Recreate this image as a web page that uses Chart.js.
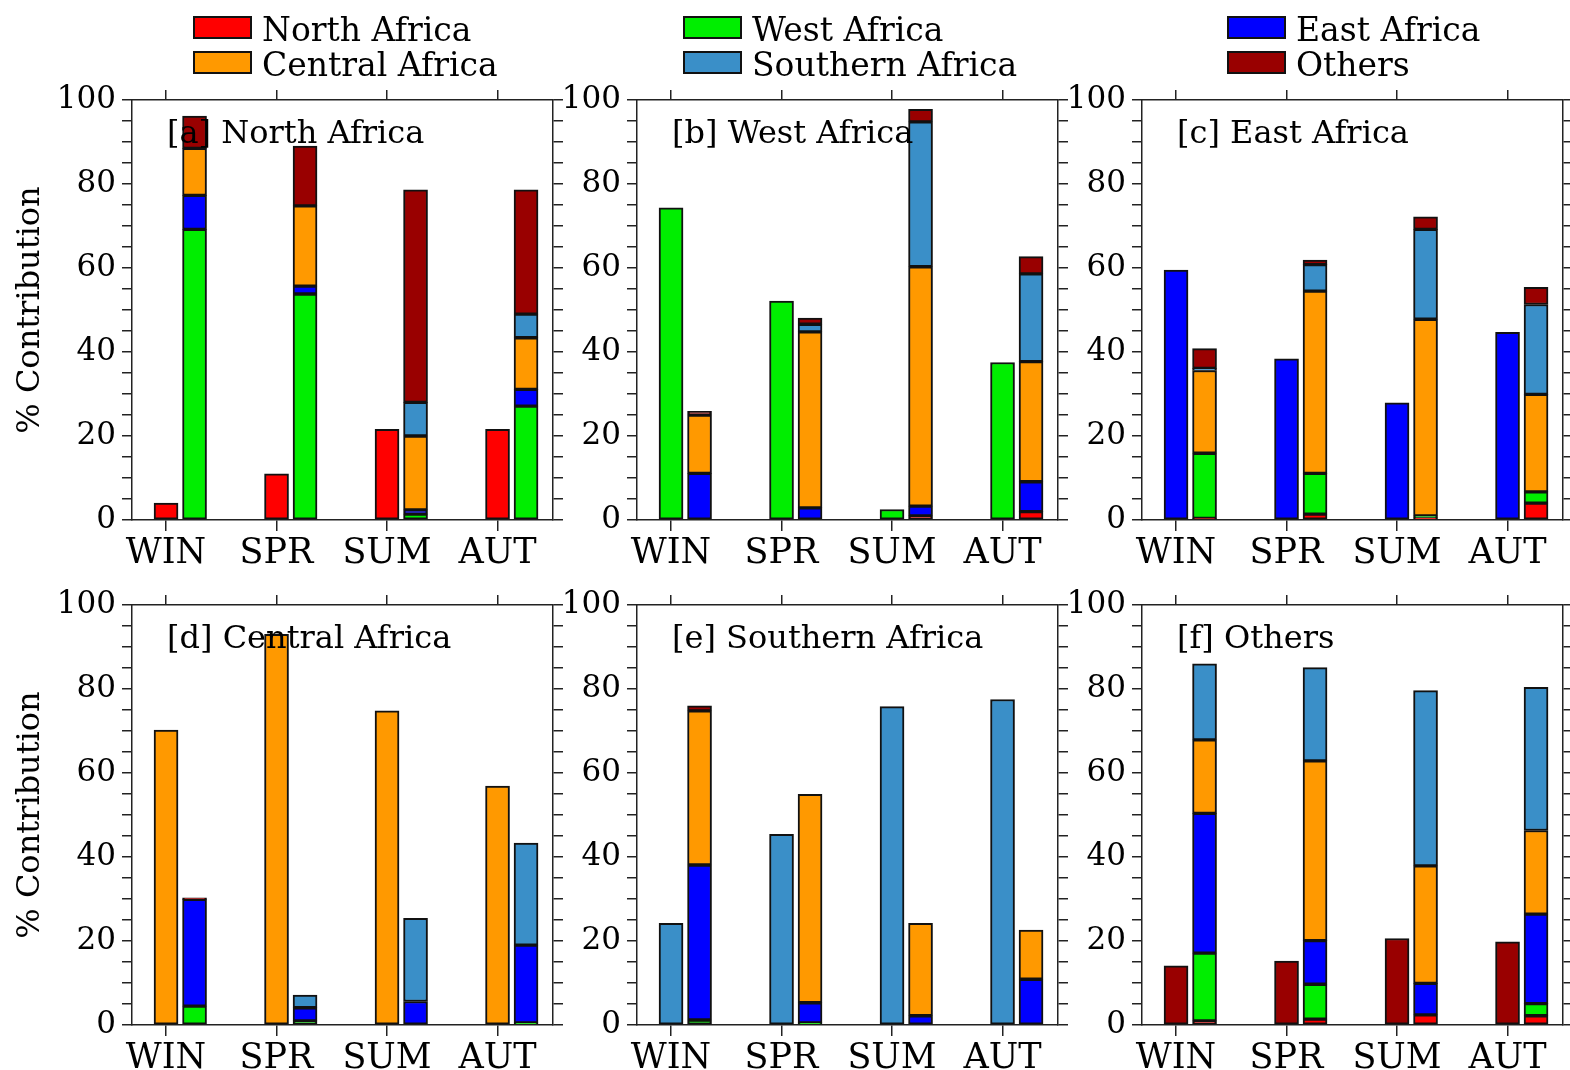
<!DOCTYPE html>
<html>
<head>
<meta charset="utf-8">
<script src="https://cdn.jsdelivr.net/npm/chart.js@4"></script>
<style>
  body { margin: 0; background: #fff; font-family: "DejaVu Serif", serif; color: #000; }
  #page { position: relative; width: 1570px; height: 1070px; overflow: hidden; }
  canvas { position: absolute; }
  .panel-label { position: absolute; font-size: 32px; line-height: 1; white-space: nowrap; }
  .legend-item { position: absolute; font-size: 33px; line-height: 1; white-space: nowrap; }
  .legend-box { position: absolute; width: 55px; height: 19px; border: 2px solid #111; }
  .y-title { position: absolute; width: 400px; text-align: center; font-size: 32px; line-height: 1; transform: rotate(-90deg); }
</style>
</head>
<body>
<div id="page"></div>
<script>
const seasons = ['WIN', 'SPR', 'SUM', 'AUT'];
const regionNames = ['North Africa', 'West Africa', 'East Africa', 'Central Africa', 'Southern Africa', 'Others'];
const regionColors = ['#ff0000', '#00ee00', '#0000ff', '#ff9900', '#3a8fc8', '#990000'];

// rows follow regionNames (also the stacking order, bottom to top)
const northAfrica = [
    [4, 11, 21.6, 21.6],
    [69.2, 53.8, 1.4, 27.1],
    [8.1, 1.9, 1.0, 4.0],
    [11.2, 19.1, 17.6, 12.3],
    [0, 0, 8.0, 5.6],
    [7.7, 14.2, 50.6, 29.6]
];
const westAfrica = [
    [0, 0, 1.0, 2.0],
    [74.3, 52.1, 2.5, 37.5],
    [11.1, 2.9, 2.3, 7.1],
    [13.9, 41.9, 57.0, 28.6],
    [0, 1.8, 34.5, 20.9],
    [0.9, 1.5, 3.0, 4.1]
];
const eastAfrica = [
    [0.4, 1.4, 0.5, 4.0],
    [15.5, 9.7, 0.5, 2.7],
    [59.5, 38.4, 27.9, 44.7],
    [19.7, 43.4, 46.8, 23.2],
    [0.5, 6.3, 21.4, 21.4],
    [4.7, 1.1, 3.0, 4.1]
];
const centralAfrica = [
    [0, 0, 0, 0],
    [4.5, 1.0, 0, 0.5],
    [25.4, 3.1, 5.6, 18.5],
    [70.2, 93.0, 74.8, 56.9],
    [0, 3.0, 19.8, 24.3],
    [0.4, 0, 0, 0]
];
const southernAfrica = [
    [0, 0, 0, 0],
    [1.2, 0.5, 0, 0],
    [36.9, 4.8, 2.2, 10.9],
    [36.7, 49.6, 22.0, 11.7],
    [24.2, 45.4, 75.8, 77.5],
    [1.2, 0, 0, 0]
];
const others = [
    [1.0, 1.4, 2.4, 2.2],
    [16.1, 8.3, 0, 2.9],
    [33.3, 10.4, 7.5, 21.3],
    [17.5, 42.8, 28.0, 19.9],
    [18.1, 22.2, 41.7, 34.1],
    [14.1, 15.2, 20.6, 19.8]
];

const panels = [
    { label: '[a] North Africa', own: 0, values: northAfrica },
    { label: '[b] West Africa', own: 1, values: westAfrica },
    { label: '[c] East Africa', own: 2, values: eastAfrica },
    { label: '[d] Central Africa', own: 3, values: centralAfrica },
    { label: '[e] Southern Africa', own: 4, values: southernAfrica },
    { label: '[f] Others', own: 5, values: others }
];

const page = document.getElementById('page');
const axisColor = '#222';
const pairOffset = 0.258; // stacked bar sits right of the own bar
const xMin = -0.308;
const xMax = 3.502;
const topBox = 30; // room above the plot for the "100" label

function seasonTicks(axis) {
    axis.ticks = seasons.map((s, i) => ({ value: i }));
}

function makePanel(panel, idx) {
    const col = idx % 3;
    const row = Math.floor(idx / 3);
    const left = 42 + 505 * col;
    const top = 100 - topBox + 505 * row;

    const canvas = document.createElement('canvas');
    canvas.width = 526;
    canvas.height = topBox + 420 + 60;
    canvas.style.left = left + 'px';
    canvas.style.top = top + 'px';
    page.appendChild(canvas);

    const datasets = panel.values.map((vals, r) => ({
        label: regionNames[r],
        data: vals.map((v, i) => ({ x: r === panel.own ? i : i + pairOffset, y: v })).filter(p => p.y > 0),
        backgroundColor: regionColors[r],
        borderColor: '#111',
        borderWidth: 2,
        borderSkipped: false,
        barThickness: 24
    }));

    const grid = { drawOnChartArea: false, offset: false, tickLength: 10, color: axisColor, lineWidth: 1.5 };
    const border = { color: axisColor, width: 1.5 };
    const tickFont = { family: 'DejaVu Serif', size: 31 };

    new Chart(canvas.getContext('2d'), {
        type: 'bar',
        data: { datasets: datasets },
        options: {
            responsive: false,
            animation: false,
            layout: { padding: 0 },
            plugins: { legend: { display: false }, tooltip: { enabled: false } },
            scales: {
                x: {
                    type: 'linear', position: 'bottom', min: xMin, max: xMax, stacked: true, offset: false,
                    grid: { ...grid, tickLength: 11 }, border: border,
                    afterBuildTicks: seasonTicks,
                    ticks: {
                        callback: v => seasons[v], autoSkip: false, maxRotation: 0,
                        font: { family: 'DejaVu Serif', size: 35 }, color: '#000', padding: 2
                    },
                    afterFit: s => { s.height = 60; }
                },
                xTop: {
                    type: 'linear', position: 'top', min: xMin, max: xMax, offset: false,
                    grid: grid, border: border,
                    afterBuildTicks: seasonTicks,
                    ticks: { display: false },
                    afterFit: s => { s.height = topBox; }
                },
                y: {
                    position: 'left', min: 0, max: 100, stacked: true,
                    grid: grid, border: border,
                    ticks: {
                        stepSize: 5, autoSkip: false,
                        callback: v => (v % 20 === 0 ? v : ''),
                        font: tickFont, color: '#000', padding: 6
                    },
                    afterFit: s => { s.width = 90; }
                },
                yRight: {
                    position: 'right', min: 0, max: 100,
                    grid: grid, border: border,
                    ticks: { display: false, stepSize: 5 },
                    afterFit: s => { s.width = 15; }
                }
            }
        }
    });

    const lbl = document.createElement('div');
    lbl.className = 'panel-label';
    lbl.textContent = panel.label;
    lbl.style.left = (132 + 505 * col + 35) + 'px';
    lbl.style.top = (100 + 505 * row + 16) + 'px';
    page.appendChild(lbl);

    if (col === 0) {
        const yt = document.createElement('div');
        yt.className = 'y-title';
        yt.textContent = '% Contribution';
        yt.style.left = (28 - 200) + 'px';
        yt.style.top = (310 + 505 * row - 16) + 'px';
        page.appendChild(yt);
    }
}

panels.forEach(makePanel);

// legend: three columns, two rows
const legendOrder = [0, 3, 1, 4, 2, 5];
const legendX = [193, 683, 1227];
legendOrder.forEach((r, k) => {
    const col = Math.floor(k / 2);
    const row = k % 2;
    const box = document.createElement('div');
    box.className = 'legend-box';
    box.style.background = regionColors[r];
    box.style.left = legendX[col] + 'px';
    box.style.top = (16 + 35 * row) + 'px';
    page.appendChild(box);

    const txt = document.createElement('div');
    txt.className = 'legend-item';
    txt.textContent = regionNames[r];
    txt.style.left = (legendX[col] + 69) + 'px';
    txt.style.top = (13 + 35 * row) + 'px';
    page.appendChild(txt);
});
</script>
</body>
</html>
